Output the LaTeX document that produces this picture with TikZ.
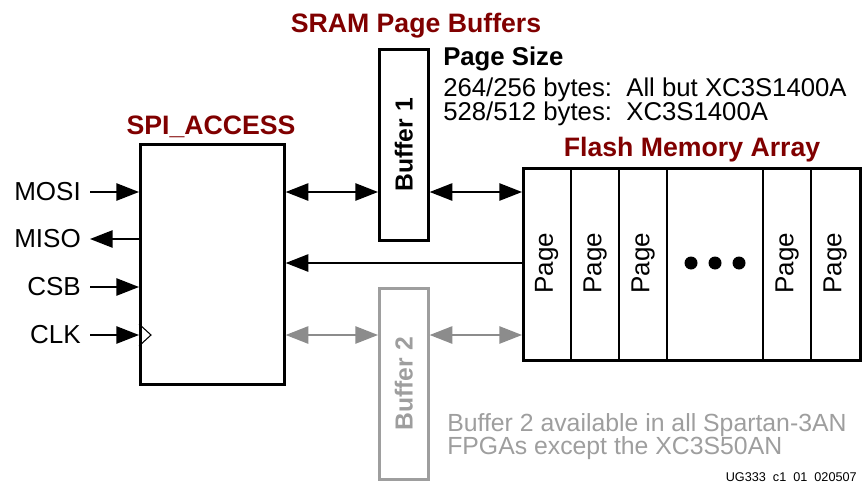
\documentclass[tikz,border=0pt]{standalone}
\usepackage{fontspec}
\setmainfont{Liberation Sans}
\usetikzlibrary{arrows.meta, positioning}
\definecolor{titlered}{RGB}{128,0,0}
\definecolor{bufgray}{RGB}{158,158,158}
\definecolor{arrgray}{RGB}{140,140,140}

\begin{document}
\begin{tikzpicture}[x=0.75pt, y=-0.75pt]
\tikzset{
  blk/.style={draw, line width=2pt, anchor=north west, inner sep=0pt},
  sig/.style={anchor=east, inner xsep=6.75pt, inner ysep=0pt, font=\fontsize{19.5}{22}\selectfont},
  txt/.style={anchor=base west, inner sep=0pt, font=\fontsize{19.3}{22}\selectfont},
  note/.style={anchor=base west, inner sep=0pt, text=bufgray, font=\fontsize{18.6}{20}\selectfont},
  ttl/.style={anchor=base, inner sep=0pt, text=titlered, font=\bfseries\fontsize{20}{24}\selectfont},
  buftxt/.style={rotate=90, inner sep=0pt, font=\bfseries\fontsize{18.5}{22}\selectfont},
  pagetxt/.style={rotate=90, inner sep=0pt, font=\fontsize{19.5}{22}\selectfont},
  dot/.style={circle, fill, inner sep=0pt, minimum size=9.75pt},
  tip/.style={-{Triangle[length=17pt,width=13pt]}, line width=1.2pt},
  both/.style={{Triangle[length=17pt,width=13pt]}-{Triangle[length=17pt,width=13pt]}, line width=1.2pt}
}
\useasboundingbox (0,0) rectangle (863,485);

% blocks
\node[blk, minimum width=108pt, minimum height=180pt] (spi) at (139,143) {};
\node[blk, minimum width=36.75pt, minimum height=143.25pt] (buf1) at (378,48) {};
\node[blk, draw=bufgray, minimum width=36.75pt, minimum height=143.25pt] (buf2) at (378,287) {};
\node[blk, minimum width=252.75pt, minimum height=144pt] (flash) at (522,167) {};
\foreach \x in {571,619,667,763,811}
  \draw[line width=1.5pt] (\x,0 |- flash.north) -- (\x,0 |- flash.south);

\node[buftxt] (buf1txt) at (buf1) {Buffer 1};
\node[buftxt, text=bufgray] (buf2txt) at (buf2) {Buffer 2};

\foreach \x/\n in {546.5/p1, 595/p2, 643/p3, 787/p4, 835/p5}
  \node[pagetxt] (\n) at (\x,263) {Page};
\foreach \x [count=\i] in {691,715,739}
  \node[dot] (dot\i) at (\x,263) {};

% titles
\node[ttl] (spittl) at (211,134) {SPI\_ACCESS};
\node[ttl] (sramttl) at (416,33) {SRAM Page Buffers};
\node[ttl] (flashttl) at (692,156) {Flash Memory Array};

\node[txt] (psize) at (443,65) {\bfseries Page Size};
\node[txt] (ps1) at (443,96) {264/256 bytes:\ \ All but XC3S1400A};
\node[txt] (ps2) at (443,120) {528/512 bytes:\ \ XC3S1400A};

\node[note] (note1) at (447,431) {Buffer 2 available in all Spartan-3AN};
\node[note] (note2) at (447,454) {FPGAs except the XC3S50AN};
\node[anchor=base east, inner sep=0pt, font=\fontsize{9.5}{11}\selectfont] (ugid) at (857,481) {UG333\ \ c1\ \ 01\ \ 020507};

% pins
\node[sig] (mosi) at (90,192) {MOSI};
\node[sig] (miso) at (90,239) {MISO};
\node[sig] (csb) at (90,287) {CSB};
\node[sig] (clk) at (90,335) {CLK};

\draw[tip] (mosi) -- (mosi -| spi.west);
\draw[tip] (miso -| spi.west) -- (miso);
\draw[tip] (csb) -- (csb -| spi.west);
\draw[tip] (clk) -- (clk -| spi.west);
\draw[line width=0.8pt] (clk -| spi.west) ++(0,-11) -- ++(12,11) -- ++(-12,11);

% data paths
\draw[both] (spi.east |- mosi) -- (buf1.west |- mosi);
\draw[both] (buf1.east |- mosi) -- (flash.west |- mosi);
\draw[tip] (flash.west |- dot1) -- (spi.east |- dot1);
\draw[both, draw=arrgray, fill=arrgray] (spi.east |- clk) -- (buf2.west |- clk);
\draw[both, draw=arrgray, fill=arrgray] (buf2.east |- clk) -- (flash.west |- clk);
\end{tikzpicture}
\end{document}
